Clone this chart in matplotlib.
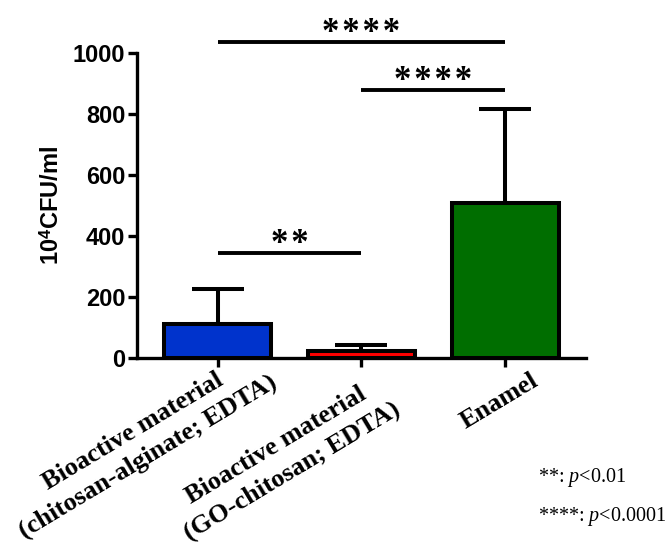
import matplotlib
matplotlib.use('Agg')
import matplotlib.pyplot as plt
import matplotlib.transforms as mtransforms

groups = ['Bioactive material\n(chitosan-alginate; EDTA)',
          'Bioactive material\n(GO-chitosan; EDTA)',
          'Enamel']
means = [112, 23, 508]
sds = [114, 20, 307]
colors = ['#0033CC', '#FF0000', '#006E00']
# pairwise comparisons: (group a, group b, stars)
pairs = [(0, 2, '****'), (1, 2, '****'), (0, 1, '**')]
notes = ['**: $p$<0.01', '****: $p$<0.0001']

plt.rcParams['mathtext.fontset'] = 'custom'
plt.rcParams['mathtext.rm'] = 'Liberation Serif'
plt.rcParams['mathtext.it'] = 'Liberation Serif:italic'
plt.rcParams['mathtext.bf'] = 'Liberation Sans:bold'

fig = plt.figure(figsize=(6.7, 5.59), dpi=100)
ax = fig.add_axes([0.2045, 0.3596, 0.670, 0.5462])

x = list(range(len(groups)))
ax.bar(x, means, width=0.74, color=colors, edgecolor='black', linewidth=2.9, zorder=3)
ax.errorbar(x, means, yerr=[[0]*len(sds), sds], fmt='none', ecolor='black',
            elinewidth=2.9, capsize=18.5, capthick=2.9, zorder=2)

ax.set_xlim(-0.56, 2.56)
ax.set_ylim(0, 1000)
ax.set_yticks([0, 200, 400, 600, 800, 1000])
for s in ['top', 'right']:
    ax.spines[s].set_visible(False)
for s in ['left', 'bottom']:
    ax.spines[s].set_linewidth(2.4)
ax.tick_params(axis='both', width=2.4, length=6.5, pad=2)
for lab in ax.get_yticklabels():
    lab.set_fontfamily('Liberation Sans')
    lab.set_fontweight('bold')
    lab.set_fontsize(17)

ax.set_xticks(x)
ax.set_xticklabels(groups, rotation=31, rotation_mode='anchor', ha='right', va='top',
                   multialignment='center', fontfamily='Liberation Serif',
                   fontweight='bold', fontsize=19, linespacing=1.4)
offsets = [(36, -25), (15, 2), (25, -1)]
for lab, (dx, dy) in zip(ax.get_xticklabels(), offsets):
    lab.set_transform(lab.get_transform() +
                      mtransforms.ScaledTranslation(dx / 100, -dy / 100, fig.dpi_scale_trans))

ax.set_ylabel('10$^{\\mathbf{4}}$CFU/ml', fontfamily='Liberation Sans', fontweight='bold',
              fontsize=17, labelpad=6)

levels = [1036, 878, 345]
for (a, b, star), y in zip(pairs, levels):
    ax.plot([a, b], [y, y], color='black', linewidth=2.8, clip_on=False, solid_capstyle='butt')
    ax.annotate('\u200a'.join(star), xy=((a + b) / 2, y), xytext=(0, 6), textcoords='offset points',
                ha='center', va='center', family=['Liberation Serif', 'DejaVu Sans'],
                fontweight='bold', fontsize=25, annotation_clip=False)

fig.text(538 / 670, 1 - 482 / 559, notes[0], fontfamily='Liberation Serif', fontsize=14.5)
fig.text(538 / 670, 1 - 521 / 559, notes[1], fontfamily='Liberation Serif', fontsize=14.5)

fig.savefig('out.png', dpi=100)
